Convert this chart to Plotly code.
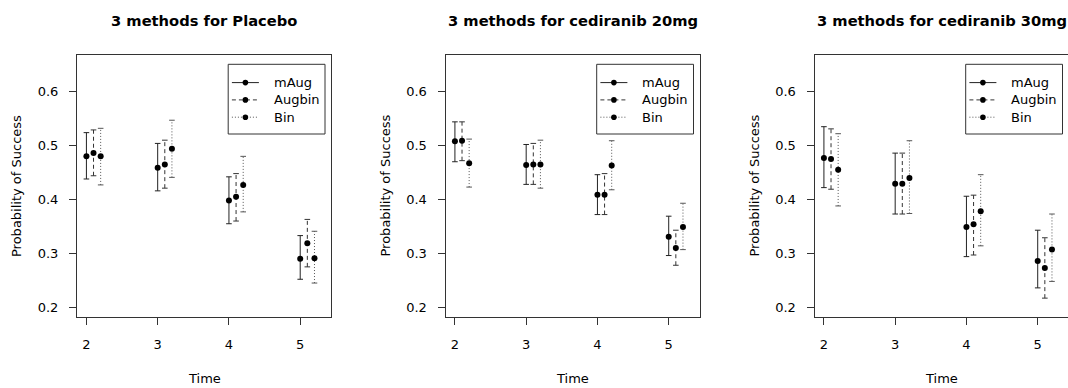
import plotly.graph_objects as go

# ---------------- data ----------------
times = [2, 3, 4, 5]
x_tick_labels = ["2", "3", "4", "5"]
y_tick_vals = [0.2, 0.3, 0.4, 0.5, 0.6]
y_tick_labels = ["0.2", "0.3", "0.4", "0.5", "0.6"]
methods = ["mAug", "Augbin", "Bin"]
panel_titles = ["3 methods for Placebo", "3 methods for cediranib 20mg", "3 methods for cediranib 30mg"]

placebo_mAug_est = [0.480, 0.459, 0.398, 0.290]
placebo_mAug_lo = [0.438, 0.416, 0.355, 0.252]
placebo_mAug_hi = [0.524, 0.504, 0.442, 0.333]
placebo_Augbin_est = [0.486, 0.465, 0.405, 0.319]
placebo_Augbin_lo = [0.444, 0.421, 0.360, 0.275]
placebo_Augbin_hi = [0.529, 0.510, 0.448, 0.363]
placebo_Bin_est = [0.480, 0.494, 0.427, 0.291]
placebo_Bin_lo = [0.427, 0.441, 0.377, 0.245]
placebo_Bin_hi = [0.532, 0.547, 0.480, 0.341]

c20_mAug_est = [0.508, 0.464, 0.409, 0.331]
c20_mAug_lo = [0.470, 0.428, 0.372, 0.296]
c20_mAug_hi = [0.544, 0.502, 0.446, 0.369]
c20_Augbin_est = [0.509, 0.465, 0.409, 0.310]
c20_Augbin_lo = [0.472, 0.428, 0.372, 0.278]
c20_Augbin_hi = [0.544, 0.504, 0.448, 0.343]
c20_Bin_est = [0.467, 0.465, 0.463, 0.349]
c20_Bin_lo = [0.423, 0.421, 0.418, 0.307]
c20_Bin_hi = [0.512, 0.510, 0.509, 0.393]

c30_mAug_est = [0.477, 0.429, 0.349, 0.286]
c30_mAug_lo = [0.422, 0.373, 0.294, 0.236]
c30_mAug_hi = [0.535, 0.486, 0.406, 0.343]
c30_Augbin_est = [0.475, 0.429, 0.354, 0.273]
c30_Augbin_lo = [0.419, 0.373, 0.297, 0.217]
c30_Augbin_hi = [0.531, 0.486, 0.408, 0.329]
c30_Bin_est = [0.455, 0.440, 0.378, 0.307]
c30_Bin_lo = [0.388, 0.374, 0.314, 0.248]
c30_Bin_hi = [0.522, 0.509, 0.446, 0.373]

panels = [
    {"mAug": (placebo_mAug_est, placebo_mAug_lo, placebo_mAug_hi),
     "Augbin": (placebo_Augbin_est, placebo_Augbin_lo, placebo_Augbin_hi),
     "Bin": (placebo_Bin_est, placebo_Bin_lo, placebo_Bin_hi)},
    {"mAug": (c20_mAug_est, c20_mAug_lo, c20_mAug_hi),
     "Augbin": (c20_Augbin_est, c20_Augbin_lo, c20_Augbin_hi),
     "Bin": (c20_Bin_est, c20_Bin_lo, c20_Bin_hi)},
    {"mAug": (c30_mAug_est, c30_mAug_lo, c30_mAug_hi),
     "Augbin": (c30_Augbin_est, c30_Augbin_lo, c30_Augbin_hi),
     "Bin": (c30_Bin_est, c30_Bin_lo, c30_Bin_hi)},
]

# ---------------- style ----------------
W, H = 1068, 388
FONT = "DejaVu Sans"
DODGE = {"mAug": 0.0, "Augbin": 0.1, "Bin": 0.2}
DASH = {"mAug": "solid", "Augbin": "4px,3px", "Bin": "1px,2px"}
LINE_COL = {"mAug": "#222222", "Augbin": "#333333", "Bin": "#555555"}
BOX_LEFT = [77.0, 445.5, 814.5]   # px
BOX_W = 254.0
BOX_TOP, BOX_BOT = 55.0, 317.0
XR = [1.868, 5.432]
YR = [0.182, 0.668]


def px(x):
    return x / W


def py(y):
    return 1 - y / H


fig = go.Figure()
shapes = []
annotations = []

for i, pdata in enumerate(panels):
    sfx = "" if i == 0 else str(i + 1)
    xa, ya = "x" + sfx, "y" + sfx
    for m in methods:
        est, lo, hi = pdata[m]
        xs, ys, cx, cy = [], [], [], []
        for t, l, h in zip(times, lo, hi):
            xs += [t + DODGE[m], t + DODGE[m], None]
            ys += [l, h, None]
            cx += [t + DODGE[m], t + DODGE[m]]
            cy += [l, h]
        fig.add_trace(go.Scatter(x=xs, y=ys, mode="lines", xaxis=xa, yaxis=ya,
                                 line=dict(color=LINE_COL[m], width=1, dash=DASH[m]),
                                 showlegend=False, hoverinfo="skip"))
        fig.add_trace(go.Scatter(x=cx, y=cy, mode="markers", xaxis=xa, yaxis=ya,
                                 marker=dict(symbol="line-ew", size=4,
                                             line=dict(color=LINE_COL[m], width=1)),
                                 showlegend=False, hoverinfo="skip"))
        fig.add_trace(go.Scatter(x=[t + DODGE[m] for t in times], y=est, mode="markers",
                                 xaxis=xa, yaxis=ya, name=m,
                                 marker=dict(symbol="circle", size=6, color="black"),
                                 showlegend=False))

    left = BOX_LEFT[i]
    right = min(left + BOX_W, W)
    xr = list(XR)
    if left + BOX_W > W:
        xr[1] = XR[0] + (XR[1] - XR[0]) * (W - left) / BOX_W
    axis_common = dict(showline=True, mirror=True, linecolor="#333333", linewidth=1,
                       ticks="outside", ticklen=7, tickcolor="#333333", tickwidth=1,
                       showgrid=False, zeroline=False,
                       tickfont=dict(family=FONT, size=13, color="black"))
    fig.update_layout(**{
        "xaxis" + sfx: dict(domain=[px(left), px(right)], range=xr, anchor=ya,
                            tickvals=times, ticktext=x_tick_labels,
                            ticklabelstandoff=8, **axis_common),
        "yaxis" + sfx: dict(domain=[py(BOX_BOT), py(BOX_TOP)], range=YR, anchor=xa,
                            tickvals=y_tick_vals, ticktext=y_tick_labels,
                            ticklabelstandoff=8, **axis_common),
    })

    cxm = left + BOX_W / 2
    annotations.append(dict(text="<b>" + panel_titles[i] + "</b>", x=px(cxm), y=py(20),
                            xref="paper", yref="paper", showarrow=False,
                            xanchor="center", yanchor="middle",
                            font=dict(family=FONT, size=14.7, color="black")))
    annotations.append(dict(text="Time", x=px(cxm), y=py(378.5), xref="paper", yref="paper",
                            showarrow=False, xanchor="center", yanchor="middle",
                            font=dict(family=FONT, size=13, color="black")))
    annotations.append(dict(text="Probability of Success", x=px(left - 61), y=py((BOX_TOP + BOX_BOT) / 2),
                            xref="paper", yref="paper", showarrow=False, textangle=-90,
                            xanchor="center", yanchor="middle",
                            font=dict(family=FONT, size=13, color="black")))

    # legend box (drawn manually, R-style)
    pr = left + BOX_W
    lx0, lx1 = pr - 102.8, pr - 6
    ly0, ly1 = BOX_TOP + 9.3, BOX_TOP + 79
    shapes.append(dict(type="rect", xref="paper", yref="paper",
                       x0=px(lx0), x1=px(min(lx1, W - 0.5)), y0=py(ly1), y1=py(ly0),
                       line=dict(color="#333333", width=1), fillcolor="white", layer="above"))
    for k, m in enumerate(methods):
        rowy = ly0 + 18.3 + 17.3 * k
        shapes.append(dict(type="line", xref="paper", yref="paper",
                           x0=px(lx0 + 3.7), x1=px(lx0 + 30.7), y0=py(rowy), y1=py(rowy),
                           line=dict(color=LINE_COL[m], width=1, dash=DASH[m]), layer="above"))
        shapes.append(dict(type="circle", xref="paper", yref="paper",
                           x0=px(lx0 + 17.2 - 2.8), x1=px(lx0 + 17.2 + 2.8),
                           y0=py(rowy + 2.8), y1=py(rowy - 2.8),
                           line=dict(color="black", width=0), fillcolor="black", layer="above"))
        annotations.append(dict(text=m, x=px(lx0 + 43.4), y=py(rowy), xref="paper", yref="paper",
                                showarrow=False, xanchor="left", yanchor="middle",
                                font=dict(family=FONT, size=13, color="black")))

fig.update_layout(width=W, height=H, margin=dict(l=0, r=0, t=0, b=0),
                  paper_bgcolor="white", plot_bgcolor="white",
                  showlegend=False, shapes=shapes, annotations=annotations,
                  font=dict(family=FONT, size=13, color="black"))

# remove the browser's default 8px page margin so the figure sits at the window origin
fig.write_html("out.html", config={"displayModeBar": False},
               post_script="document.body.style.margin='0';")
